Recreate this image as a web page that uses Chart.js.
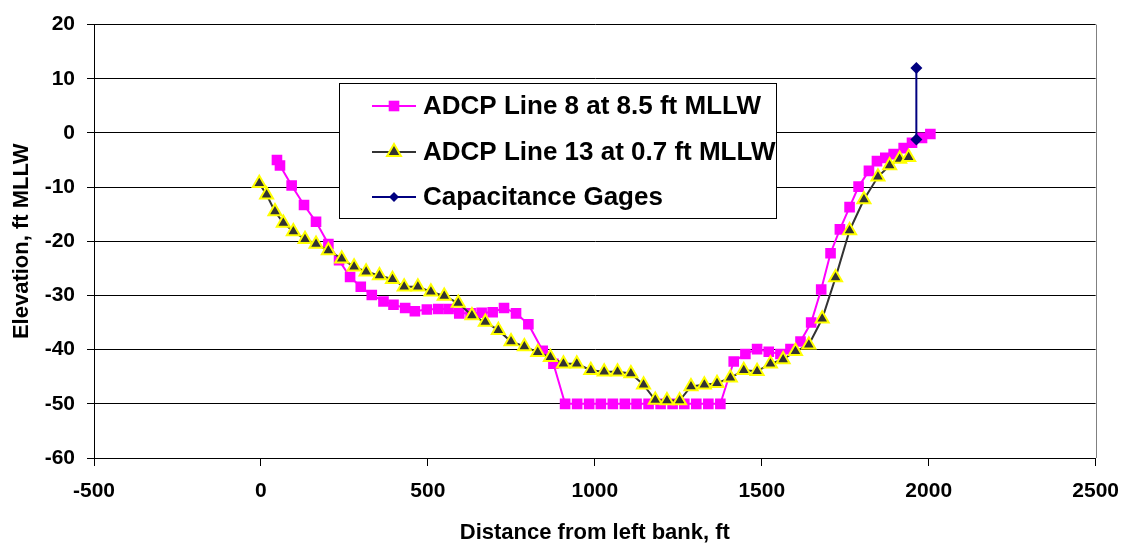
<!DOCTYPE html>
<html>
<head>
<meta charset="utf-8">
<script src="https://cdn.jsdelivr.net/npm/chart.js@4.4.1/dist/chart.umd.min.js"></script>
<style>
    html, body { margin: 0; padding: 0; background: #ffffff; }
</style>
</head>
<body>
<canvas id="chartProfile" width="1132" height="546"></canvas>
<script>
// ADCP Line 8 (8.5 ft MLLW)
const line8Dist = [48, 57, 92, 129, 165, 202, 234, 267, 299, 332,
    367, 397, 432, 461, 497, 531, 562, 594, 628, 661,
    694, 728, 764, 801, 844, 876,
    911, 947, 983, 1018, 1054, 1090, 1125, 1161, 1197, 1233, 1268, 1304, 1340, 1376,
    1416, 1451, 1486, 1521, 1556, 1586, 1616, 1648, 1678, 1706,
    1734, 1763, 1790, 1821, 1845, 1870, 1895, 1925, 1950, 1980, 2005];
const line8Elev = [-5.0, -6.0, -9.7, -13.3, -16.4, -20.5, -23.5, -26.6, -28.4, -29.9,
    -31.1, -31.7, -32.3, -32.9, -32.6, -32.5, -32.5, -33.3, -33.3, -33.2,
    -33.1, -32.3, -33.3, -35.3, -40.2, -42.6,
    -50, -50, -50, -50, -50, -50, -50, -50, -50, -50, -50, -50, -50, -50,
    -42.2, -40.8, -39.9, -40.4, -40.8, -39.9, -38.5, -35.0, -28.9, -22.2,
    -17.8, -13.7, -9.9, -7.0, -5.2, -4.6, -3.9, -2.8, -1.8, -0.9, -0.2];

// ADCP Line 13 (0.7 ft MLLW)
const line13Dist = [-5, 17, 42, 67, 97, 132, 165, 202, 242, 279,
    315, 355, 394, 429, 470, 509, 549, 591, 632, 672,
    711, 749, 789, 829, 867, 906, 946, 988, 1028, 1068,
    1108, 1146, 1181, 1216, 1254, 1288, 1328, 1366, 1406, 1446,
    1486, 1526, 1564, 1601, 1641, 1681, 1721, 1763, 1806, 1848,
    1883, 1913, 1940];
const line13Elev = [-9.3, -11.4, -14.5, -16.6, -18.2, -19.6, -20.5, -21.7, -23.2, -24.7,
    -25.6, -26.3, -27.0, -28.4, -28.4, -29.3, -30.1, -31.4, -33.7, -34.9,
    -36.4, -38.5, -39.4, -40.5, -41.4, -42.6, -42.6, -43.8, -44.1, -44.1,
    -44.4, -46.5, -49.3, -49.4, -49.4, -46.8, -46.5, -46.2, -45.2, -43.8,
    -44.0, -42.6, -41.8, -40.3, -39.1, -34.3, -26.7, -18.0, -12.3, -8.1,
    -6.0, -4.8, -4.5];

// Capacitance gages
const gageDist = [1963, 1963];
const gageElev = [12.0, -1.2];

const xTicks = [-500, 0, 500, 1000, 1500, 2000, 2500];
const yTicks = [20, 10, 0, -10, -20, -30, -40, -50, -60];

const labelFont = "'Liberation Sans', Arial, sans-serif";

function toPoints(xs, ys) {
    return xs.map((x, i) => ({x: x, y: ys[i]}));
}

// box legend inside the plot, like the original sheet
const boxLegend = {
    id: "boxLegend",
    afterDraw(chart) {
        const ctx = chart.ctx;
        const left = 339, top = 83, right = 776, bottom = 218;
        const rows = [106, 152, 197];
        ctx.save();
        ctx.fillStyle = "#ffffff";
        ctx.fillRect(left, top, right - left, bottom - top);
        ctx.strokeStyle = "#000000";
        ctx.lineWidth = 1;
        ctx.strokeRect(left + 0.5, top + 0.5, right - left, bottom - top);

        chart.data.datasets.forEach((ds, i) => {
            const y = rows[i];
            ctx.strokeStyle = ds.borderColor;
            ctx.lineWidth = 2;
            ctx.beginPath();
            ctx.moveTo(372, y);
            ctx.lineTo(416, y);
            ctx.stroke();

            ctx.fillStyle = ds.pointBackgroundColor;
            ctx.strokeStyle = ds.pointBorderColor;
            ctx.lineWidth = ds.pointBorderWidth;
            Chart.helpers.drawPoint(ctx, {
                pointStyle: ds.pointStyle,
                radius: ds.legendRadius,
                rotation: 0,
                borderWidth: ds.pointBorderWidth
            }, 394, y);

            ctx.fillStyle = "#000000";
            ctx.font = "bold 26px " + labelFont;
            ctx.textAlign = "left";
            ctx.textBaseline = "middle";
            ctx.fillText(ds.label, 423, y + 1);
        });
        ctx.restore();
    }
};

// grey right edge of the plot area
const plotEdge = {
    id: "plotEdge",
    beforeDatasetsDraw(chart) {
        const {ctx, chartArea} = chart;
        ctx.save();
        ctx.strokeStyle = "#808080";
        ctx.lineWidth = 1;
        ctx.beginPath();
        ctx.moveTo(Math.round(chartArea.right) + 0.5, chartArea.top);
        ctx.lineTo(Math.round(chartArea.right) + 0.5, chartArea.bottom);
        ctx.stroke();
        ctx.restore();
    }
};

const chartProfile = new Chart(document.getElementById("chartProfile"), {
    type: "scatter",
    data: {
        datasets: [
            {
                label: "ADCP Line 8 at 8.5 ft MLLW",
                data: toPoints(line8Dist, line8Elev),
                showLine: true,
                borderColor: "#FF00FF",
                borderWidth: 2,
                pointStyle: "rect",
                pointRadius: 7.5,
                pointHoverRadius: 7.5,
                pointBackgroundColor: "#FF00FF",
                pointBorderColor: "#FF00FF",
                pointBorderWidth: 0,
                legendRadius: 7.5,
                order: 3
            },
            {
                label: "ADCP Line 13 at 0.7 ft MLLW",
                data: toPoints(line13Dist, line13Elev),
                showLine: true,
                borderColor: "#333333",
                borderWidth: 2,
                pointStyle: "triangle",
                pointRadius: 7.5,
                pointHoverRadius: 7.5,
                pointBackgroundColor: "#333333",
                pointBorderColor: "#FFFF00",
                pointBorderWidth: 2,
                legendRadius: 8,
                order: 2
            },
            {
                label: "Capacitance Gages",
                data: toPoints(gageDist, gageElev),
                showLine: true,
                borderColor: "#000080",
                borderWidth: 2,
                pointStyle: "rectRot",
                pointRadius: 6,
                pointHoverRadius: 6,
                pointBackgroundColor: "#000080",
                pointBorderColor: "#000080",
                pointBorderWidth: 0,
                legendRadius: 5,
                order: 1
            }
        ]
    },
    options: {
        responsive: false,
        animation: false,
        layout: {
            padding: {top: 16, right: 35, left: 0, bottom: 0}
        },
        plugins: {
            legend: {display: false},
            tooltip: {enabled: false}
        },
        scales: {
            x: {
                type: "linear",
                min: -500,
                max: 2500,
                afterFit: (scale) => { scale.height = 88; },
                afterBuildTicks: (scale) => { scale.ticks = xTicks.map(v => ({value: v})); },
                border: {display: true, color: "#000000", width: 1},
                grid: {
                    drawOnChartArea: false,
                    drawTicks: true,
                    tickLength: 8,
                    color: "#000000"
                },
                ticks: {
                    autoSkip: false,
                    maxRotation: 0,
                    padding: 13,
                    color: "#000000",
                    callback: (value) => String(value),
                    font: {family: labelFont, size: 21, weight: "bold"}
                },
                title: {
                    display: true,
                    text: "Distance from left bank, ft",
                    color: "#000000",
                    padding: {top: 0, bottom: 0},
                    font: {family: labelFont, size: 22, weight: "bold"}
                }
            },
            y: {
                type: "linear",
                min: -60,
                max: 20,
                afterFit: (scale) => { scale.width = 94; },
                afterBuildTicks: (scale) => { scale.ticks = yTicks.map(v => ({value: v})); },
                border: {display: true, color: "#000000", width: 1},
                grid: {
                    color: "#000000",
                    lineWidth: 1,
                    tickLength: 7
                },
                ticks: {
                    padding: 12,
                    color: "#000000",
                    callback: (value) => String(value),
                    font: {family: labelFont, size: 21, weight: "bold"}
                },
                title: {
                    display: true,
                    text: "Elevation, ft MLLW",
                    color: "#000000",
                    padding: {top: 9, bottom: 0},
                    font: {family: labelFont, size: 22, weight: "bold"}
                }
            }
        }
    },
    plugins: [plotEdge, boxLegend]
});
</script>
</body>
</html>
